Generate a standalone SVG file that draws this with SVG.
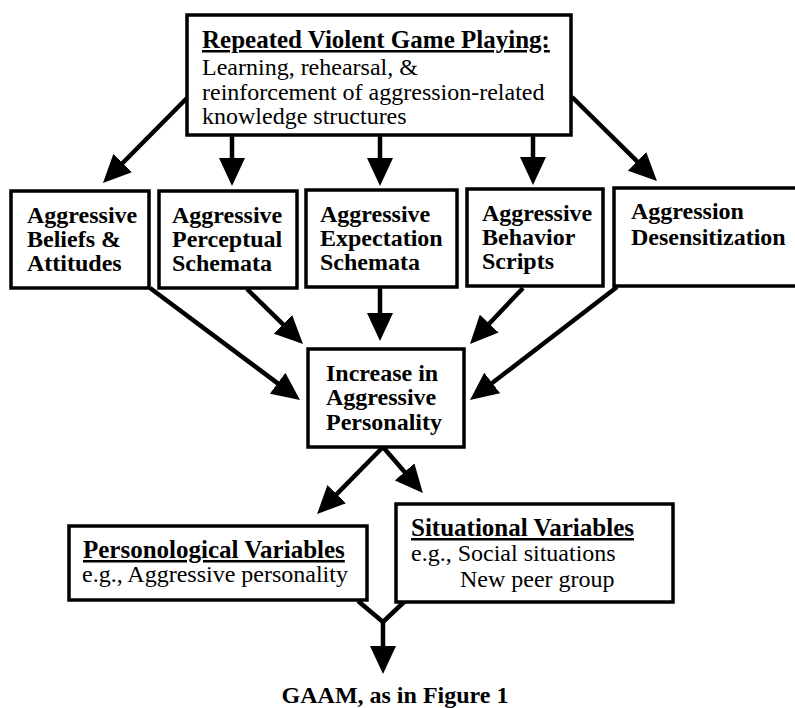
<svg xmlns="http://www.w3.org/2000/svg" width="795" height="708" viewBox="0 0 795 708">
<defs>
<style>
.box{fill:#fff;stroke:#000;stroke-width:3.5}
.t{font-family:"Liberation Serif","Times New Roman",serif;font-size:24px;fill:#000}
.b{font-weight:bold}
.h{font-weight:bold;font-size:25px;text-decoration:underline}
.c line,.c polyline{stroke:#000;stroke-width:4.5;fill:none}
.arr{marker-end:url(#ah)}
</style>
<marker id="ah" markerUnits="userSpaceOnUse" markerWidth="28" markerHeight="26" viewBox="0 0 28 26" refX="14" refY="13" orient="auto">
<path d="M0,0 L28,13 L0,26 z" fill="#000"/>
</marker>
</defs>
<rect width="795" height="708" fill="#fff"/>
<g id="connectors" class="c">
<line class="arr" x1="187" y1="98" x2="112.8" y2="173"/>
<line class="arr" x1="232" y1="135" x2="232" y2="172"/>
<line class="arr" x1="380" y1="135" x2="380" y2="172"/>
<line class="arr" x1="533" y1="135" x2="533" y2="171"/>
<line class="arr" x1="572" y1="97" x2="647" y2="171.2"/>
<line class="arr" x1="150" y1="288" x2="288.8" y2="391.6"/>
<line class="arr" x1="247" y1="289" x2="293" y2="334.2"/>
<line class="arr" x1="380" y1="288" x2="380" y2="327"/>
<line class="arr" x1="523" y1="288" x2="479.6" y2="333.8"/>
<line class="arr" x1="617" y1="287" x2="481.1" y2="391.5"/>
<line class="arr" x1="383" y1="447" x2="326.9" y2="504.1"/>
<line class="arr" x1="383" y1="447" x2="413.7" y2="482.5"/>
<polyline points="358,601 383,622 405,601"/>
<line class="arr" x1="383" y1="622" x2="383" y2="660"/>
</g>
<g id="top">
<rect class="box" x="187" y="15" width="384" height="120"/>
<text class="t h" x="202" y="48">Repeated Violent Game Playing:</text>
<text class="t" x="202" y="75">Learning, rehearsal, &amp;</text>
<text class="t" x="202" y="100">reinforcement of aggression-related</text>
<text class="t" x="202" y="124">knowledge structures</text>
</g>
<g id="beliefs">
<rect class="box" x="11" y="191" width="138" height="97"/>
<text class="t b" x="27" y="223">Aggressive</text>
<text class="t b" x="27" y="247">Beliefs &amp;</text>
<text class="t b" x="27" y="271">Attitudes</text>
</g>
<g id="perceptual">
<rect class="box" x="159" y="191" width="138" height="97"/>
<text class="t b" x="172" y="223">Aggressive</text>
<text class="t b" x="172" y="247">Perceptual</text>
<text class="t b" x="172" y="271">Schemata</text>
</g>
<g id="expectation">
<rect class="box" x="306" y="190" width="151" height="97"/>
<text class="t b" x="320" y="222">Aggressive</text>
<text class="t b" x="320" y="246">Expectation</text>
<text class="t b" x="320" y="270">Schemata</text>
</g>
<g id="scripts">
<rect class="box" x="467" y="189" width="136" height="97"/>
<text class="t b" x="482" y="221">Aggressive</text>
<text class="t b" x="482" y="245">Behavior</text>
<text class="t b" x="482" y="269">Scripts</text>
</g>
<g id="desensitization">
<rect class="box" x="614" y="188" width="190" height="98"/>
<text class="t b" x="631" y="219">Aggression</text>
<text class="t b" x="631" y="245">Desensitization</text>
</g>
<g id="personality">
<rect class="box" x="308" y="349" width="156" height="98"/>
<text class="t b" x="326" y="381">Increase in</text>
<text class="t b" x="326" y="405">Aggressive</text>
<text class="t b" x="326" y="430">Personality</text>
</g>
<g id="personological">
<rect class="box" x="69" y="526" width="298" height="74"/>
<text class="t h" x="83" y="558">Personological Variables</text>
<text class="t" x="82" y="582">e.g., Aggressive personality</text>
</g>
<g id="situational">
<rect class="box" x="396" y="504" width="277" height="98"/>
<text class="t h" x="411" y="536">Situational Variables</text>
<text class="t" x="411" y="561">e.g., Social situations</text>
<text class="t" x="460" y="587">New peer group</text>
</g>
<g id="gaam">
<text class="t b" x="395" y="703" text-anchor="middle">GAAM, as in Figure 1</text>
</g>
</svg>
